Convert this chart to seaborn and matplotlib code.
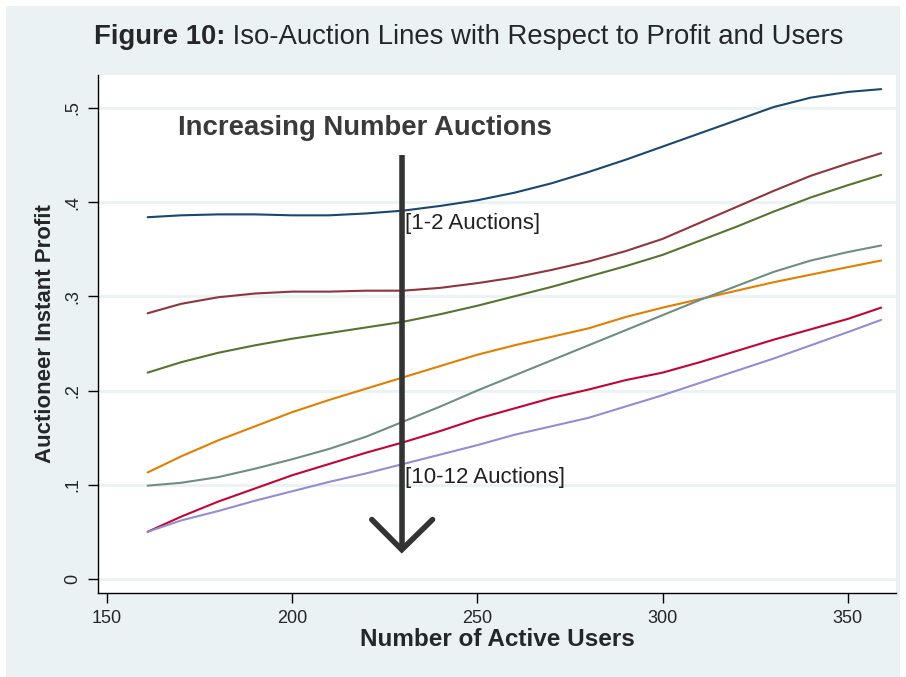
import numpy as np
import pandas as pd
import matplotlib
matplotlib.use("Agg")
import matplotlib.pyplot as plt
import seaborn as sns
from matplotlib.patches import Rectangle

# ---------------- data ----------------
users = [161, 170, 180, 190, 200, 210, 220, 230, 240, 250, 260,
         270, 280, 290, 300, 310, 320, 330, 340, 350, 359]

auc_1_2 = [.384, .386, .387, .387, .386, .386, .388, .391, .396, .402, .410,
           .420, .432, .445, .459, .473, .487, .501, .511, .517, .520]
auc_3_4 = [.282, .292, .299, .303, .305, .305, .306, .306, .309, .314, .320,
           .328, .337, .348, .361, .378, .395, .412, .428, .441, .452]
auc_5 = [.219, .230, .240, .248, .255, .261, .267, .273, .281, .290, .300,
         .310, .321, .332, .344, .359, .374, .390, .405, .418, .429]
auc_6 = [.113, .130, .147, .162, .177, .190, .202, .214, .226, .238, .248,
         .257, .266, .278, .288, .297, .306, .315, .323, .331, .338]
auc_7 = [.099, .102, .108, .117, .127, .138, .151, .167, .183, .200, .216,
         .232, .248, .264, .280, .296, .311, .326, .338, .347, .354]
auc_8_9 = [.050, .066, .082, .096, .110, .122, .134, .145, .157, .170, .181,
           .192, .201, .211, .219, .230, .242, .254, .265, .276, .288]
auc_10_12 = [.050, .062, .072, .083, .093, .103, .112, .122, .132, .142, .153,
             .162, .171, .183, .195, .208, .221, .234, .248, .262, .275]

groups = ["1-2", "3-4", "5", "6", "7", "8-9", "10-12"]
series = [auc_1_2, auc_3_4, auc_5, auc_6, auc_7, auc_8_9, auc_10_12]
# stata s2color
colors = ["#1a476f", "#90353b", "#55752f", "#e37e00", "#6e8e84", "#c10534", "#938dd2"]

xticks = [150, 200, 250, 300, 350]
yticks = [0, .1, .2, .3, .4, .5]
ytick_labels = ["0", ".1", ".2", ".3", ".4", ".5"]

# long format for seaborn
df = pd.DataFrame({
    "users": np.tile(users, len(groups)),
    "profit": np.concatenate(series),
    "group": np.repeat(groups, len(users)),
})

# ---------------- style ----------------
sns.set_style("white")
plt.rcParams["font.family"] = ["Liberation Sans", "DejaVu Sans"]

bg = "#eaf2f3"
fig = plt.figure(figsize=(9.06, 6.77), dpi=100, facecolor="white")
fig.patches.append(Rectangle((6 / 906, 0), 1 - 12 / 906, 1 - 6 / 677,
                             transform=fig.transFigure, facecolor=bg,
                             edgecolor="none", zorder=-10))
ax = fig.add_axes([98 / 906, 84 / 677, 798 / 906, 518 / 677])
ax.set_facecolor("white")

for y in yticks:
    ax.axhline(y, color=bg, lw=2, zorder=0)

sns.lineplot(data=df, x="users", y="profit", hue="group", palette=colors,
             hue_order=groups, legend=False, lw=1.5, ax=ax)

ax.set_xlim(147.6, 363)
ax.set_ylim(-0.015, 0.535)
ax.set_xticks(xticks)
ax.set_yticks(yticks)
ax.set_yticklabels(ytick_labels, rotation=90, va="center")
ax.tick_params(axis="both", direction="out", length=7, width=1, color="black",
               labelsize=13, pad=5, left=True, bottom=True)

for side in ["top", "right"]:
    ax.spines[side].set_visible(False)
for side in ["left", "bottom"]:
    ax.spines[side].set_color("black")
    ax.spines[side].set_linewidth(1)

ax.set_xlabel("Number of Active Users", fontsize=17.5, fontweight="bold", labelpad=1)
ax.set_ylabel("Auctioneer Instant Profit", fontsize=16, fontweight="bold", labelpad=6)

# arrow annotation
arrow_x = 229.6
ax.plot([arrow_x, arrow_x], [0.45, 0.032], color="#333333", lw=4, solid_capstyle="butt")
ax.plot([221.5, arrow_x, 237.9], [0.063, 0.031, 0.063], color="#333333", lw=4,
        solid_joinstyle="miter")
ax.text(169.2, 0.479, "Increasing Number Auctions", fontsize=19.8, fontweight="bold",
        color="#3a3a3a", ha="left", va="center")
ax.text(arrow_x + 0.8, 0.377, "[1-2 Auctions]", fontsize=16, ha="left", va="center",
        color="#222222")
ax.text(arrow_x + 0.8, 0.108, "[10-12 Auctions]", fontsize=16, ha="left", va="center",
        color="#222222")

# title: bold "Figure 10:" followed by regular text
ty = 1 - 37 / 677
t1 = fig.text(0, ty, "Figure 10:", fontsize=19.8, fontweight="bold", va="center", ha="left")
t2 = fig.text(0, ty, " Iso-Auction Lines with Respect to Profit and Users", fontsize=19.8,
              va="center", ha="left")
fig.canvas.draw()
r = fig.canvas.get_renderer()
w1 = t1.get_window_extent(r).width / fig.bbox.width
w2 = t2.get_window_extent(r).width / fig.bbox.width
x0 = 468.5 / 906 - (w1 + w2) / 2
t1.set_x(x0)
t2.set_x(x0 + w1)

fig.savefig("out.png", dpi=100, facecolor=fig.get_facecolor())
